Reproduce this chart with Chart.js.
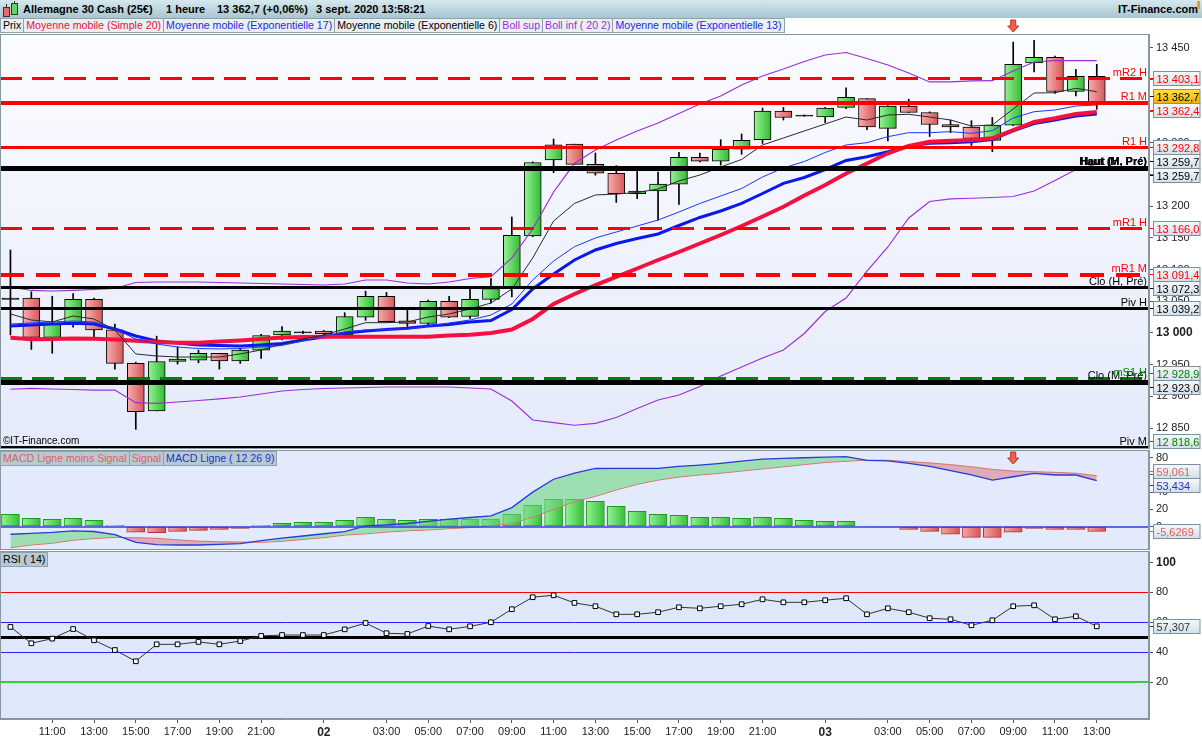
<!DOCTYPE html>
<html>
<head>
<meta charset="utf-8">
<script src="https://cdn.jsdelivr.net/npm/chart.js@4.4.1/dist/chart.umd.min.js"></script>
<style>
  body { margin: 0; background: #fff; font-family: "Liberation Sans", Arial, sans-serif; }
  #wrap { position: relative; width: 1202px; height: 740px; overflow: hidden; background: #fff; }
  canvas { position: absolute; left: 0; }
  #header { position: absolute; left: 0; top: 0; width: 1202px; height: 18px;
    background: linear-gradient(#d6e8ee, #a8c6d0); font-size: 11px; font-weight: bold; color: #000; line-height: 18px; }
  #header span { position: absolute; top: 0; white-space: nowrap; }
  .legend { position: absolute; left: 0; display: flex; font-size: 10.6px; line-height: 13px; z-index: 2; }
  .legend div { border: 1px solid #8ea2ab; margin-left: -1px; padding: 0 2px; background: #eaeff2; white-space: nowrap; }
  .legend.sub div { background: #b7cad3; }
  #copy { position: absolute; left: 3px; top: 435px; font-size: 10px; color: #000; z-index: 2; }
</style>
</head>
<body>
<div id="wrap">
  <div id="header">
    <div style="position:absolute;left:6px;top:4px;width:1px;height:13px;background:#333"></div>
    <div style="position:absolute;left:3px;top:7px;width:5px;height:8px;background:#ec6a6a;border:1px solid #333"></div>
    <div style="position:absolute;left:14px;top:1px;width:1px;height:14px;background:#333"></div>
    <div style="position:absolute;left:11px;top:3px;width:5px;height:10px;background:#5fd75f;border:1px solid #333"></div>
    <span style="left:23px">Allemagne 30 Cash (25€)</span>
    <span style="left:166px">1 heure</span>
    <span style="left:217px">13 362,7 (+0,06%)</span>
    <span style="left:316px">3 sept. 2020 13:58:21</span>
    <span style="right:4px">IT-Finance.com</span>
    <div style="position:absolute;left:1197px;top:1px;width:3px;height:8px;background:#f0a000"></div>
  </div>
  <div class="legend" style="top:18px">
    <div style="margin-left:0">Prix</div>
    <div style="color:#f0103c">Moyenne mobile (Simple 20)</div>
    <div style="color:#1a28f0">Moyenne mobile (Exponentielle 17)</div>
    <div style="color:#000">Moyenne mobile (Exponentielle 6)</div>
    <div style="color:#9b30d9">Boll sup</div>
    <div style="color:#9b30d9">Boll inf ( 20 2)</div>
    <div style="color:#1a28f0">Moyenne mobile (Exponentielle 13)</div>
  </div>
  <div class="legend sub" style="top:451px">
    <div style="margin-left:0;color:#e0605a">MACD Ligne moins Signal</div>
    <div style="color:#e0605a">Signal</div>
    <div style="color:#2233cc">MACD Ligne ( 12 26 9)</div>
  </div>
  <div class="legend sub" style="top:552px">
    <div style="margin-left:0">RSI ( 14)</div>
  </div>
  <div id="copy">©IT-Finance.com</div>
  <canvas id="main" width="1202" height="431" style="top:18px"></canvas>
  <canvas id="macd" width="1202" height="100" style="top:450px"></canvas>
  <canvas id="rsi" width="1202" height="189" style="top:551px"></canvas>
</div>
<script>
// hourly slots, 1 Sept 09:00 -> 3 Sept 15:00 (only labelled ticks carry text)
const slotTimes = ['', '', '11:00', '', '13:00', '', '15:00', '', '17:00', '', '19:00', '', '21:00', '', '',
  '02', '', '', '03:00', '', '05:00', '', '07:00', '', '09:00', '', '11:00', '', '13:00', '', '15:00', '',
  '17:00', '', '19:00', '', '21:00', '', '',
  '03', '', '', '03:00', '', '05:00', '', '07:00', '', '09:00', '', '11:00', '', '13:00', '', ''];

// candles
const open = [13054, 13055, 12993, 13014, 13053, 13005, 12952, 12877, 12955, 12957,
  12968, 12956, 12973, 12997, 13001, 13003, 12997, 13025, 13058, 13019,
  13015, 13050, 13026, 13053, 13073, 13153, 13273, 13298, 13266, 13252,
  13220, 13224, 13235, 13277, 13271, 13290, 13305, 13350, 13343, 13341,
  13356, 13370, 13323, 13358, 13348, 13329, 13325, 13304, 13328, 13426,
  13435, 13381, 13405];
const high = [13131, 13065, 13058, 13062, 13055, 13014, 12954, 12995, 12978, 12973,
  12968, 12976, 12998, 13010, 13003, 13004, 13032, 13066, 13064, 13037,
  13052, 13058, 13069, 13086, 13183, 13270, 13306, 13298, 13284, 13264,
  13256, 13254, 13285, 13284, 13305, 13314, 13355, 13356, 13344, 13356,
  13387, 13370, 13359, 13369, 13349, 13336, 13335, 13340, 13459, 13462,
  13437, 13416, 13424];
const low = [12997, 12974, 12968, 13009, 12994, 12943, 12848, 12877, 12951, 12953,
  12943, 12952, 12960, 12989, 12999, 12997, 12997, 13020, 13017, 13009,
  13011, 13024, 13023, 13047, 13057, 13152, 13253, 13266, 13249, 13206,
  13212, 13178, 13203, 13270, 13265, 13282, 13299, 13336, 13342, 13332,
  13354, 13321, 13303, 13348, 13310, 13316, 13296, 13286, 13327, 13412,
  13378, 13374, 13353];
const close = [13054, 12993, 13014, 13053, 13005, 12952, 12876, 12955, 12959, 12968,
  12956, 12973, 12996, 13003, 13001, 12999, 13026, 13058, 13018, 13015,
  13050, 13025, 13053, 13070, 13154, 13269, 13297, 13266, 13252, 13220,
  13224, 13235, 13277, 13271, 13290, 13304, 13350, 13340, 13343, 13355,
  13372, 13325, 13358, 13348, 13329, 13325, 13307, 13328, 13424, 13435,
  13381, 13405, 13362.7];

// overlays
const sma20 = [12992.6, 12990.1, 12990.5, 12991.3, 12991.0, 12989.7, 12987.8, 12985.8, 12984.7, 12984.7,
  12986.6, 12988.2, 12990.5, 12992.9, 12993.7, 12994.0, 12994.2, 12994.2, 12994.2, 12994.2,
  12994.2, 12996.1, 12997.2, 13000.0, 13005.5, 13022.1, 13045.8, 13061.5, 13075.7, 13088.4,
  13101.8, 13115.2, 13127.8, 13141.2, 13154.6, 13168.8, 13183.8, 13199.3, 13217.0, 13233.5,
  13251.7, 13267.5, 13283.6, 13295.1, 13301.9, 13303.5, 13304.6, 13307.2, 13320.3, 13333.0,
  13338.8, 13345.6, 13348.7];
const ema17 = [13011.0, 13012.6, 13014.2, 13015.3, 13014.2, 13006.3, 12995.3, 12987.4, 12984.2, 12981.1,
  12980.3, 12979.5, 12981.1, 12983.4, 12989.0, 12993.7, 12999.5, 13003.2, 13005.5, 13007.4,
  13011.0, 13013.4, 13017.4, 13019.7, 13037.1, 13069.4, 13093.1, 13115.2, 13131.0, 13141.2,
  13149.1, 13156.2, 13169.6, 13182.3, 13192.5, 13204.4, 13220.1, 13236.2, 13245.4, 13258.0,
  13272.2, 13278.2, 13286.1, 13295.1, 13299.3, 13300.3, 13301.9, 13305.3, 13318.8, 13330.6,
  13336.1, 13342.4, 13345.6];
const ema13 = [13014.2, 13015.8, 13017.4, 13018.9, 13017.4, 13006.3, 12990.5, 12982.6, 12977.9, 12975.5,
  12974.8, 12975.5, 12977.9, 12980.3, 12987.4, 12995.3, 13001.6, 13004.7, 13005.5, 13006.3,
  13011.0, 13015.8, 13020.5, 13028.4, 13045.8, 13083.6, 13113.6, 13136.2, 13149.9, 13159.4,
  13168.8, 13178.3, 13190.9, 13204.4, 13216.2, 13228.0, 13246.2, 13260.4, 13270.6, 13284.8,
  13296.7, 13300.3, 13309.8, 13316.1, 13316.1, 13317.7, 13315.1, 13319.2, 13339.3, 13349.2,
  13351.9, 13358.2, 13359.8];
const ema6 = [13030.0, 13020.5, 13017.4, 13026.8, 13022.1, 13004.7, 12966.9, 12963.7, 12962.1, 12962.1,
  12962.1, 12966.9, 12973.2, 12982.6, 12990.5, 12996.8, 13006.3, 13016.3, 13016.3, 13017.4,
  13025.2, 13030.0, 13037.9, 13047.3, 13069.4, 13118.4, 13176.7, 13204.4, 13217.8, 13219.3,
  13221.7, 13227.2, 13239.9, 13249.3, 13262.0, 13273.8, 13296.7, 13307.7, 13318.8, 13329.8,
  13340.8, 13336.1, 13344.0, 13345.1, 13340.8, 13336.1, 13326.6, 13328.2, 13353.5, 13378.7,
  13379.2, 13386.1, 13380.8];
const bollSup = [13072.6, 13067.1, 13066.3, 13067.1, 13068.6, 13070.2, 13079.7, 13080.5, 13080.5, 13080.5,
  13079.7, 13078.9, 13078.1, 13077.3, 13076.5, 13075.7, 13077.3, 13083.6, 13083.6, 13078.9,
  13077.3, 13080.5, 13086.0, 13088.8, 13118.4, 13164.1, 13222.5, 13267.8, 13288.8, 13304.6,
  13318.8, 13331.4, 13346.4, 13361.4, 13374.0, 13391.3, 13405.5, 13416.5, 13428.4, 13438.7,
  13442.6, 13433.2, 13422.9, 13410.3, 13396.1, 13396.1, 13397.7, 13398.1, 13413.4, 13427.6,
  13429.7, 13429.7, 13429.7];
const bollInf = [12911.2, 12912.7, 12911.6, 12910.8, 12910.0, 12910.0, 12890.0, 12889.1, 12891.1, 12893.5,
  12895.9, 12899.0, 12903.7, 12908.5, 12910.8, 12912.4, 12913.2, 12914.0, 12914.8, 12914.8,
  12914.8, 12914.8, 12913.2, 12911.6, 12892.7, 12862.7, 12858.5, 12854.4, 12857.5, 12866.7,
  12880.9, 12894.3, 12902.2, 12915.6, 12932.1, 12946.3, 12960.5, 12973.2, 12999.2, 13033.9,
  13055.2, 13097.8, 13135.7, 13181.5, 13207.5, 13211.5, 13212.6, 13213.8, 13215.4, 13224.1,
  13240.6, 13258.0, 13266.7];

// pivot levels shown on the price panel
const levelNames = ['Haut (H, Pré)', 'Haut (M, Pré)', 'Clo (H, Pré)', 'Piv H', 'Clo (M, Pré)', 'Piv M',
  'mR2 H', 'R1 M', 'R1 H', 'mR1 H', 'mR1 M', 'mS1 H'];
const levelValues = [13259.7, 13259.7, 13072.3, 13039.2, 12923.0, 12818.6,
  13403.1, 13362.4, 13292.8, 13166.0, 13091.4, 12928.9];
const lastPrice = 13362.7;
const signalSlots = [48];
const priceTicks = [12850, 12900, 12950, 13000, 13050, 13100, 13150, 13200, 13250, 13300, 13350, 13400, 13450];

// MACD (12 26 9)
const macdLine = [-9, -8, -6.8, -5, -5.8, -9.3, -18.5, -21, -21.5, -21.5,
  -20.8, -19.8, -16.5, -13.5, -11, -8.4, -6, 0.7, 1.8, 3.5,
  6, 8.5, 10.5, 12.5, 22, 40, 55, 62, 67.5, 67.7,
  67.7, 67.7, 70, 71.5, 73.5, 76, 78.5, 79.3, 80, 80.7,
  81.2, 77, 76.3, 73.5, 70, 65, 60, 54, 57.9, 61.9,
  59.9, 59.9, 53.434];
const macdSignal = [-24.6, -21.5, -19.5, -16, -14, -12.6, -13, -13.7, -15.5, -17,
  -17.7, -18, -18.4, -17.2, -15, -13, -10, -8.5, -6.5, -5,
  -4, -2.5, -1.2, 1, 3.5, 11, 20, 29, 35, 42.5,
  49, 54, 57.5, 60, 62, 64.5, 67, 69.5, 72, 74.5,
  75.8, 77.3, 77, 75.5, 74, 72, 69.5, 66.5, 64.5, 63.8,
  63, 62, 59.061];
const macdHist = [14.2, 9.5, 8.4, 9.5, 7.2, 1.4, -6.7, -7, -5.6, -4.4,
  -3.3, -2.1, 1.4, 3.7, 4.9, 4.9, 7.2, 10.7, 8.4, 7.2,
  8.4, 8.4, 8.4, 8.4, 14.2, 24.6, 31.6, 31.6, 29.3, 23.5,
  17.7, 14.2, 13, 10.7, 10.7, 9.5, 10.7, 9.5, 7.2, 6,
  6, 0.6, -0.4, -3.3, -5.6, -9, -12.6, -12.6, -6.7, -2.1,
  -3.3, -3.3, -5.6269];
const macdTicks = [0, 20, 40, 60, 80];

// RSI (14)
const rsi = [56.9, 46, 49.1, 55.5, 48, 41.5, 34, 45.3, 45.3, 46.9,
  45.3, 47.5, 50.9, 51.5, 51.5, 51.5, 55.3, 59.5, 52.7, 52.2,
  57.5, 55.3, 57.3, 60, 68.7, 76.7, 78, 72.9, 70.7, 65.3,
  65.3, 66.7, 70, 69.3, 70.7, 72, 75.3, 73.3, 73.3, 74.7,
  76, 65.3, 69.3, 66.7, 62.7, 62, 58, 61.3, 70.7, 71.3,
  62, 64, 57.307];
const rsiLevels = [80, 60, 50, 40, 20];
const rsiTicks = [20, 40, 60, 80, 100];

const FONT = '"Liberation Sans", Arial, sans-serif';
Chart.defaults.font.family = FONT;
Chart.defaults.font.size = 11;
Chart.defaults.color = '#222';
Chart.defaults.animation = false;

const RED = '#ff0000', GREEN = '#008000', BLACK = '#000';

// french number format: 13 403,1
function fr(v, d) {
  const s = Math.abs(v).toFixed(d).split('.');
  const i = s[0].replace(/\B(?=(\d{3})+(?!\d))/g, ' ');
  return (v < 0 ? '-' : '') + i + (d ? ',' + s[1] : '');
}

// styles for the pivot levels (same order as levelNames)
const levelStyles = [
  { color: BLACK, width: 5 }, { color: BLACK, width: 5 }, { color: BLACK, width: 3 },
  { color: BLACK, width: 3 }, { color: BLACK, width: 5 }, { color: BLACK, width: 5, box: GREEN },
  { color: RED, width: 3, dash: [22, 10] }, { color: RED, width: 4 }, { color: RED, width: 3 },
  { color: RED, width: 3, dash: [22, 10] }, { color: RED, width: 4, dash: [24, 12] },
  { color: GREEN, width: 3, dash: [22, 10] }
];
const rsiStyles = [
  { color: '#ff0000', width: 1 }, { color: '#2222ff', width: 1 }, { color: '#000', width: 3 },
  { color: '#2222ff', width: 1 }, { color: '#00c000', width: 1.5 }
];

// decoration per panel
const deco = {
  main: {
    bg: ['#fbfcff', '#e4eafa'],
    over: levelValues.map((v, i) => Object.assign({ value: v, label: levelNames[i] }, levelStyles[i])),
    boxes: levelValues.map((v, i) => ({ value: v, text: fr(v, 1), color: levelStyles[i].box || levelStyles[i].color }))
      .concat([{ value: lastPrice, text: fr(lastPrice, 1), color: '#000', yellow: true }]),
    arrows: signalSlots.map(s => ({ slot: s, dy: -14 }))
  },
  macd: {
    bg: '#e3eafb',
    over: [{ value: 0, color: '#2f3fe0', width: 1.5 }],
    boxes: [
      { value: macdSignal[macdSignal.length - 1], text: fr(macdSignal[macdSignal.length - 1], 3), color: '#e0605a' },
      { value: macdLine[macdLine.length - 1], text: fr(macdLine[macdLine.length - 1], 3), color: '#2233cc' },
      { value: macdHist[macdHist.length - 1], text: fr(macdHist[macdHist.length - 1], 4), color: '#e0605a' }
    ],
    arrows: signalSlots.map(s => ({ slot: s, dy: 2 }))
  },
  rsi: {
    bg: '#dfe7fb',
    under: rsiLevels.map((v, i) => Object.assign({ value: v }, rsiStyles[i])),
    boxes: [{ value: rsi[rsi.length - 1], text: fr(rsi[rsi.length - 1], 3), color: '#333' }]
  }
};

function drawGuides(chart, list) {
  const { ctx, chartArea: a, scales: { y } } = chart;
  ctx.save();
  ctx.beginPath();
  ctx.rect(a.left, a.top, a.right - a.left, a.bottom - a.top);
  ctx.clip();
  list.forEach(g => {
    const py = Math.round(y.getPixelForValue(g.value)) + (g.width % 2 === 1 ? 0.5 : 0);
    ctx.strokeStyle = g.color;
    ctx.lineWidth = g.width;
    ctx.setLineDash(g.dash || []);
    ctx.beginPath();
    ctx.moveTo(a.left, py);
    ctx.lineTo(a.right, py);
    ctx.stroke();
  });
  ctx.setLineDash([]);
  ctx.textAlign = 'right';
  ctx.textBaseline = 'alphabetic';
  list.forEach(g => {
    if (!g.label) return;
    const py = Math.round(y.getPixelForValue(g.value));
    ctx.font = (g.label.startsWith('Haut') ? 'bold ' : '') + '11px ' + FONT;
    ctx.fillStyle = g.color;
    ctx.fillText(g.label, a.right - 2, py - g.width / 2 - 1);
  });
  ctx.restore();
}

// push overlapping value boxes apart, keeping each group centred on its values
function spread(list, h, lo, hi) {
  list.sort((p, q) => p.y0 - q.y0);
  const groups = list.map(it => [it]);
  const mid = g => {
    const c = g.reduce((s, it) => s + it.y0, 0) / g.length;
    return Math.min(Math.max(c, lo + g.length * h / 2), hi - g.length * h / 2);
  };
  let merged = true;
  while (merged) {
    merged = false;
    for (let i = 0; i < groups.length - 1; i++) {
      const g1 = groups[i], g2 = groups[i + 1];
      if (mid(g1) + g1.length * h / 2 > mid(g2) - g2.length * h / 2) {
        groups.splice(i, 2, g1.concat(g2));
        merged = true;
        break;
      }
    }
  }
  groups.forEach(g => {
    const c = mid(g);
    g.forEach((it, k) => { it.y = c - g.length * h / 2 + h * (k + 0.5); });
  });
}

function drawBoxes(chart, items) {
  const { ctx, chartArea: a, scales: { y } } = chart;
  const h = 14;
  const list = items.map(it => Object.assign({ y0: y.getPixelForValue(it.value) }, it));
  spread(list, h, a.top, a.bottom - 1);
  ctx.save();
  list.forEach(b => {
    const x0 = a.right + 4.5, w = chart.width - x0 - 2;
    const top = Math.round(b.y - h / 2) + 0.5;
    const g = ctx.createLinearGradient(0, top, 0, top + h);
    if (b.yellow) { g.addColorStop(0, '#ffe24a'); g.addColorStop(1, '#f3b000'); }
    else { g.addColorStop(0, '#f6f9fc'); g.addColorStop(1, '#d3dfe9'); }
    ctx.fillStyle = g;
    ctx.fillRect(x0, top, w, h);
    ctx.strokeStyle = '#7a92a0';
    ctx.lineWidth = 1;
    ctx.strokeRect(x0, top, w, h);
    ctx.strokeStyle = b.color;
    ctx.beginPath();
    ctx.moveTo(a.right + 1, Math.round(b.y) + 0.5);
    ctx.lineTo(x0, Math.round(b.y) + 0.5);
    ctx.stroke();
    ctx.fillStyle = b.color;
    ctx.font = '11px ' + FONT;
    ctx.textAlign = 'left';
    ctx.textBaseline = 'middle';
    ctx.fillText(b.text, x0 + 3, top + h / 2 + 1);
  });
  ctx.restore();
}

function drawArrow(ctx, x, top) {
  ctx.save();
  ctx.fillStyle = '#f2614d';
  ctx.strokeStyle = '#b33427';
  ctx.lineWidth = 1;
  ctx.beginPath();
  ctx.moveTo(x - 2.5, top); ctx.lineTo(x + 2.5, top); ctx.lineTo(x + 2.5, top + 6);
  ctx.lineTo(x + 5.5, top + 6); ctx.lineTo(x, top + 12); ctx.lineTo(x - 5.5, top + 6);
  ctx.lineTo(x - 2.5, top + 6); ctx.closePath();
  ctx.fill(); ctx.stroke();
  ctx.restore();
}

Chart.register({
  id: 'panel',
  beforeDraw(chart) {
    const d = deco[chart.canvas.id], { ctx, chartArea: a } = chart;
    let fill = d.bg;
    if (Array.isArray(d.bg)) {
      fill = ctx.createLinearGradient(0, a.top, 0, a.bottom);
      fill.addColorStop(0, d.bg[0]);
      fill.addColorStop(1, d.bg[1]);
    }
    ctx.save();
    ctx.fillStyle = fill;
    ctx.fillRect(a.left, a.top, a.right - a.left, a.bottom - a.top);
    ctx.restore();
  },
  beforeDatasetsDraw(chart) {
    const d = deco[chart.canvas.id];
    if (d.under) drawGuides(chart, d.under);
  },
  afterDatasetsDraw(chart) {
    const d = deco[chart.canvas.id];
    if (d.over) drawGuides(chart, d.over);
  },
  afterDraw(chart) {
    const d = deco[chart.canvas.id], { ctx, chartArea: a } = chart;
    ctx.save();
    ctx.strokeStyle = '#8797a0';
    ctx.lineWidth = 1;
    ctx.strokeRect(a.left + 0.5, a.top + 0.5, a.right - a.left - 1, a.bottom - a.top - 1);
    ctx.restore();
    (d.arrows || []).forEach(ar => drawArrow(ctx, chart.scales.x.getPixelForValue(ar.slot), a.top + ar.dy));
    if (d.boxes) drawBoxes(chart, d.boxes);
  }
});

function xScale(show) {
  const isDay = c => c.tick && /^\d\d$/.test(c.tick.label);
  return {
    type: 'category', labels: slotTimes, offset: true, display: show,
    grid: { display: true, drawOnChartArea: false, drawTicks: true, tickLength: 4,
      color: c => (c.tick && c.tick.label) ? '#555' : 'rgba(0,0,0,0)' },
    border: { display: true, color: '#8797a0' },
    ticks: { autoSkip: false, maxRotation: 0, minRotation: 0, padding: 2, color: '#222',
      font: c => ({ family: FONT, size: isDay(c) ? 12 : 11, weight: isDay(c) ? 'bold' : 'normal' }) },
    afterFit(s) { if (show) s.height = 21; s.paddingLeft = 0; s.paddingRight = 0; }
  };
}

function yScale(min, max, tickValues, boldValue) {
  return {
    position: 'right', min: min, max: max,
    grid: { drawOnChartArea: false, drawTicks: true, tickLength: 4, color: '#555' },
    border: { display: true, color: '#8797a0' },
    ticks: { padding: 3, color: '#222', callback: v => fr(v, 0),
      font: c => ({ family: FONT, size: (c.tick && c.tick.value === boldValue) ? 12 : 11,
        weight: (c.tick && c.tick.value === boldValue) ? 'bold' : 'normal' }) },
    afterBuildTicks(s) { s.ticks = tickValues.map(v => ({ value: v })); },
    afterFit(s) { s.width = 53; s.paddingTop = 0; s.paddingBottom = 0; }
  };
}

const baseOptions = (padTop) => ({
  responsive: false,
  animation: false,
  layout: { autoPadding: false, padding: { top: padTop, left: 0, right: 0, bottom: 0 } },
  plugins: { legend: { display: false }, tooltip: { enabled: false } }
});

// horizontal gradient for one bar, solid colour if the scale is not laid out yet
function barGradient(c, light, dark, flat) {
  const x = c.chart.scales.x ? c.chart.scales.x.getPixelForValue(c.dataIndex) : NaN;
  if (!isFinite(x)) return flat;
  const g = c.chart.ctx.createLinearGradient(x - 8, 0, x + 8, 0);
  g.addColorStop(0, light);
  g.addColorStop(1, dark);
  return g;
}

// candle colours: green/red gradient bodies, black dash for doji
function candleFill(c) {
  if (c.type !== 'data') return '#5c5';
  const i = c.dataIndex, o = open[i], cl = close[i];
  if (Math.abs(cl - o) < 1.2) return '#000';
  return cl > o ? barGradient(c, '#92f292', '#36bb36', '#5c5') : barGradient(c, '#f7abab', '#d65a5a', '#e77');
}

const line = (data, color, width, order) => ({
  type: 'line', data: data, borderColor: color, borderWidth: width, pointRadius: 0,
  tension: 0, fill: false, order: order
});

new Chart(document.getElementById('main'), {
  type: 'bar',
  data: {
    labels: slotTimes,
    datasets: [
      line(ema6, '#2a2a2a', 1, 1),
      line(ema13, '#2036ff', 1, 2),
      line(sma20, '#f5103f', 4, 3),
      line(ema17, '#0a18ee', 3, 4),
      line(bollSup, '#9b30d9', 1.2, 5),
      line(bollInf, '#9b30d9', 1.2, 5),
      { type: 'bar', data: open.map((o, i) => Math.abs(close[i] - o) < 1.2 ? [o - 0.9, o + 0.9] : [o, close[i]]),
        backgroundColor: candleFill, borderColor: '#000', borderWidth: 1, borderSkipped: false,
        barThickness: 17, grouped: false, order: 9 },
      { type: 'bar', data: low.map((l, i) => [l, high[i]]), backgroundColor: '#000', borderWidth: 0,
        barThickness: 1, grouped: false, order: 10 }
    ]
  },
  options: Object.assign(baseOptions(16), {
    scales: {
      x: xScale(false),
      y: yScale(12816.95, 13471.8, priceTicks, 13000)
    }
  })
});

new Chart(document.getElementById('macd'), {
  type: 'bar',
  data: {
    labels: slotTimes,
    datasets: [
      { type: 'bar', data: macdHist, barThickness: 18, borderWidth: 1, borderSkipped: false, grouped: false, order: 5,
        backgroundColor: c => {
          if (c.type !== 'data') return '#5c5';
          return macdHist[c.dataIndex] >= 0 ? barGradient(c, '#8ef08e', '#3cc03c', '#5c5')
            : barGradient(c, '#f4a0a0', '#d85858', '#e77');
        },
        borderColor: c => (c.type === 'data' && macdHist[c.dataIndex] < 0 ? '#b03434' : '#1f9a1f') },
      { type: 'line', data: macdLine, borderColor: '#2a3ad8', borderWidth: 1.3, pointRadius: 0, tension: 0, order: 1,
        fill: { target: 2, above: 'rgba(112,214,132,0.6)', below: 'rgba(214,110,120,0.5)' } },
      { type: 'line', data: macdSignal, borderColor: '#e86c6c', borderWidth: 1, pointRadius: 0, tension: 0, order: 2, fill: false }
    ]
  },
  options: Object.assign(baseOptions(0), {
    scales: {
      x: xScale(false),
      y: yScale(-27.3, 89, macdTicks, null)
    }
  })
});

new Chart(document.getElementById('rsi'), {
  type: 'line',
  data: {
    labels: slotTimes,
    datasets: [
      { data: rsi, borderColor: '#333', borderWidth: 1, tension: 0, fill: false,
        pointStyle: 'rect', pointRadius: 3.3, pointBackgroundColor: '#fff',
        pointBorderColor: '#000', pointBorderWidth: 1 }
    ]
  },
  options: Object.assign(baseOptions(0), {
    scales: {
      x: xScale(true),
      y: yScale(-4.47, 107.5, rsiTicks, 100)
    }
  })
});
</script>
</body>
</html>
